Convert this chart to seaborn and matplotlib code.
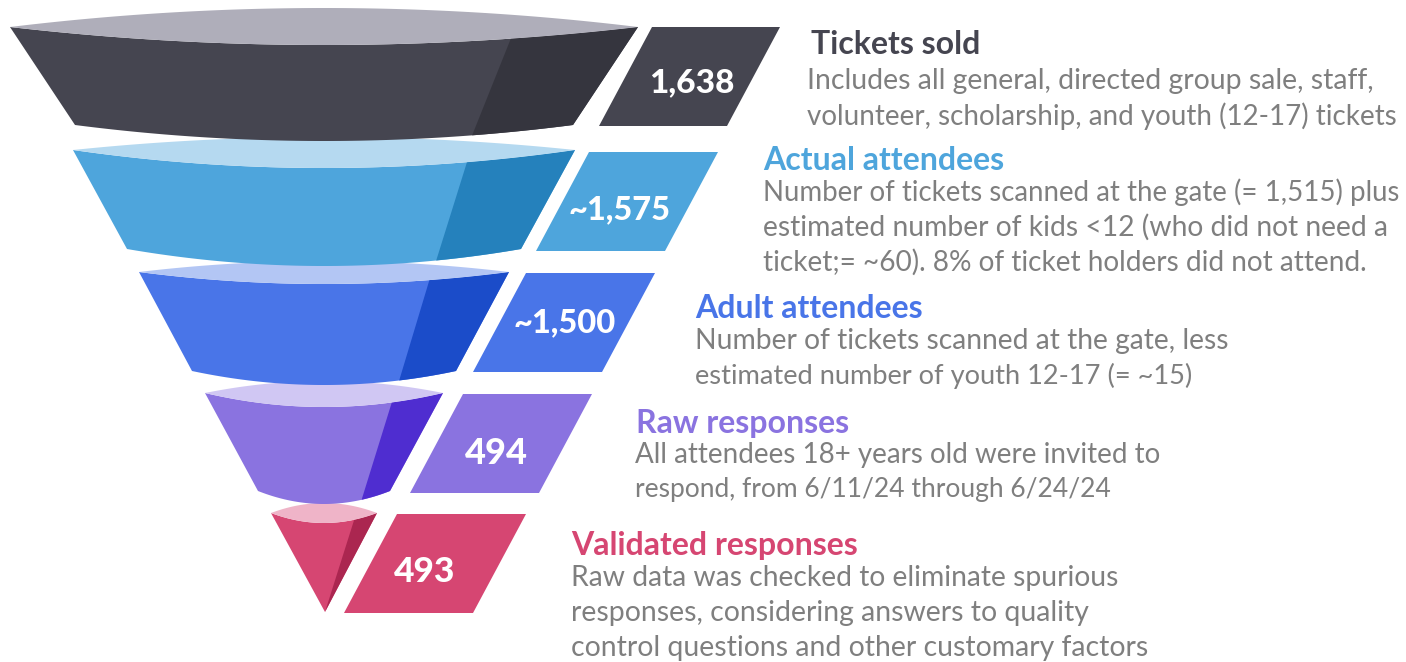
import numpy as np
import matplotlib
matplotlib.use("Agg")
import matplotlib.pyplot as plt
import seaborn as sns

# ------------------------------------------------------------
# Data
# ------------------------------------------------------------
stages = ["Tickets sold", "Actual attendees", "Adult attendees",
          "Raw responses", "Validated responses"]
counts = ["1,638", "~1,575", "~1,500", "494", "493"]
notes = [
    ["Includes all general, directed group sale, staff,",
     "volunteer, scholarship, and youth (12-17) tickets"],
    ["Number of tickets scanned at the gate (= 1,515) plus",
     "estimated number of kids <12 (who did not need a",
     "ticket;= ~60). 8% of ticket holders did not attend."],
    ["Number of tickets scanned at the gate, less",
     "estimated number of youth 12-17 (= ~15)"],
    ["All attendees 18+ years old were invited to",
     "respond, from 6/11/24 through 6/24/24"],
    ["Raw data was checked to eliminate spurious",
     "responses, considering answers to quality",
     "control questions and other customary factors"],
]

front_colors = ["#454550", "#4EA5DC", "#4975E8", "#8A73E0", "#D64672"]
side_colors = ["#35353E", "#2581BC", "#1B4CC9", "#4F2DD0", "#AB2650"]
lid_colors = ["#AFAEBA", "#B5D9F0", "#B3C6F4", "#D0C7F3", "#EFB4C8"]
grey_text = "#7F7F7F"

# ------------------------------------------------------------
# Funnel layout (pixels of the canvas)
# ------------------------------------------------------------
center_x = 324
rim_y = [27, 150, 272, 393, 513]
rim_half = [314, 251, 185, 119, 53]
waist_y = [125, 249, 371, 491, 612]
waist_half = [249, 197, 132, 66, 0]
lid_up = [19, 13, 11, 12, 10]
lid_down = [18, 18, 12, 14, 10]
waist_down = [16, 17, 14, 13, 0]
split_top = [507, 465, 429, 390, 353]
split_bottom = [472, 436, 399, 360, 325]

tag_x = [652, 589, 526, 463, 397]
tag_y = [27, 152, 273, 394, 514]
tag_w = [128, 129, 129, 129, 129]
tag_h = 99
tag_shear = 53
tag_size = [24, 23.5, 23.5, 26, 25.5]
tag_text_x = [692, 620, 565, 496, 425]
tag_text_y = [83, 210, 323, 454, 572]

head_x = [811, 763, 695, 636, 571]
head_y = [45, 160, 308, 424, 546]
note_x = [807, 763, 695, 635, 571]
note_y = [81, 192, 341, 455, 578]
note_size = [[20.4, 20.0], [19.9, 20.3, 20.2], [20.3, 19.6], [20.0, 19.0], [20.3, 20.4, 20.4]]
line_gap = 35


def bulge(x, half, depth):
    return depth * (1 - ((x - center_x) / half) ** 2)


sns.set_theme(style="white")
plt.rcParams["font.family"] = ["Lato", "DejaVu Sans"]

fig = plt.figure(figsize=(14.06, 6.62), dpi=100)
ax = fig.add_axes([0, 0, 1, 1])
ax.set_xlim(0, 1406)
ax.set_ylim(662, 0)
ax.axis("off")

# bottom tier first so each bowl sits over the lid of the next one
for i in reversed(range(len(stages))):
    rim = np.linspace(center_x - rim_half[i], center_x + rim_half[i], 80)
    lid_top = rim_y[i] - bulge(rim, rim_half[i], lid_up[i])
    lid_bot = rim_y[i] + bulge(rim, rim_half[i], lid_down[i])

    if waist_half[i] > 0:
        low = np.linspace(center_x + waist_half[i], center_x - waist_half[i], 80)
        low_y = waist_y[i] + bulge(low, waist_half[i], waist_down[i])
    else:
        low = np.array([center_x + 1.0])
        low_y = np.array([waist_y[i]])

    ax.fill(np.r_[rim, low], np.r_[lid_bot, low_y], color=front_colors[i], lw=0, zorder=2)

    # darker right hand side of the bowl
    keep_r = rim >= split_top[i]
    keep_l = low >= split_bottom[i]
    ax.fill(np.r_[rim[keep_r], low[keep_l]], np.r_[lid_bot[keep_r], low_y[keep_l]],
            color=side_colors[i], lw=0, zorder=2)

    ax.fill(np.r_[rim, rim[::-1]], np.r_[lid_top, lid_bot[::-1]],
            color=lid_colors[i], lw=0, zorder=2)

    # value tag
    x0, y0, w = tag_x[i], tag_y[i], tag_w[i]
    ax.fill([x0, x0 + w, x0 + w - tag_shear, x0 - tag_shear], [y0, y0, y0 + tag_h, y0 + tag_h],
            color=front_colors[i], lw=0, zorder=2)
    ax.text(tag_text_x[i], tag_text_y[i], counts[i], color="white", fontsize=tag_size[i],
            fontweight="black", ha="center", va="center", zorder=3)

    # heading and notes
    ax.text(head_x[i], head_y[i], stages[i], color=front_colors[i], fontsize=23,
            fontweight="bold", ha="left", va="center", zorder=3)
    for j, line in enumerate(notes[i]):
        ax.text(note_x[i], note_y[i] + j * line_gap, line, color=grey_text, fontsize=note_size[i][j],
                ha="left", va="center", zorder=3)

fig.savefig("out.png", dpi=100)
